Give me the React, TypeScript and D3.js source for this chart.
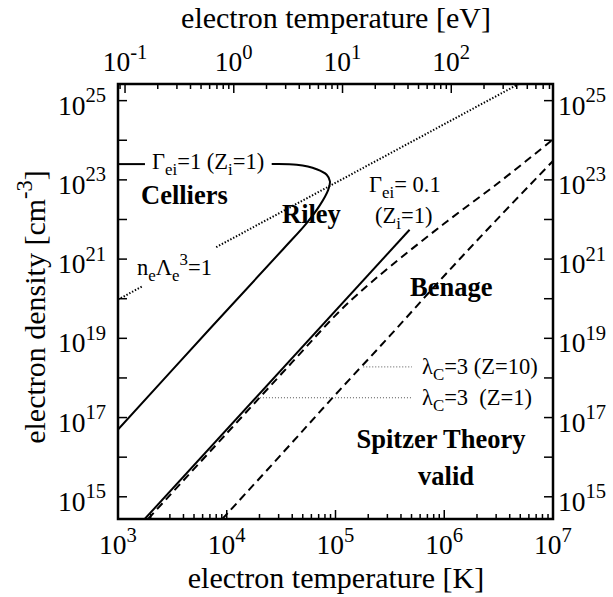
import React from 'react';
import * as d3 from 'd3';

const W = 613;
const H = 597;
const FRAME = { left: 118, right: 553, top: 84, bottom: 519 };
const K_PER_EV = 11604.5;
const FONT = "'Liberation Serif', 'Times New Roman', serif";

// axis domains / ticks
const tempDomainK = [1e3, 1e7];
const densityDomain = [2.75e14, 2.63e25];
const densityTickExps = [15, 16, 17, 18, 19, 20, 21, 22, 23, 24, 25];
const densityLabelExps = [15, 17, 19, 21, 23, 25];
const tempLabelExps = [3, 4, 5, 6, 7];
const evLabelExps = [-1, 0, 1, 2];

// curves: [T (K), n_e (cm^-3)]
const gamma1Left = [[1e3, 2.5e23], [1.77e3, 2.5e23]];
const gamma1Curve = [
  [2.59e4, 2.5e23], [4.4e4, 2.4e23], [6.71e4, 1.86e23], [8.3e4, 1.35e23],
  [8.89e4, 9.1e22], [8.57e4, 5.6e22], [7.19e4, 2.3e22], [5.43e4, 8.1e21],
  [3.31e4, 1.8e21], [7.0e3, 1.74e19], [1e3, 5.0e16],
];
const gamma01 = [[1.76e3, 2.75e14], [4.8e5, 5.5e21]];
const coulombZ1 = [
  [1.9e3, 2.8e14], [1e4, 4.0e16], [4e4, 2.5e18], [1e5, 3.8e19], [1.6e5, 1.3e20],
  [3.2e5, 6.6e20], [1e6, 7.9e21], [3.2e6, 8.7e22], [1e7, 1.05e24],
];
const coulombZ10 = [
  [9.1e3, 2.75e14], [3.2e4, 1.2e16], [1e5, 3.8e17], [3.2e5, 1.2e19],
  [1e6, 3.8e20], [3.2e6, 1.15e22], [1e7, 3.0e23],
];
const degenLeft = [[1e3, 9.5e19], [1.7e3, 2.1e20]];
const degenRight = [[8e3, 2.0e21], [4.8e6, 2.6e25]];
const leaderZ10 = [[1.8e5, 1.9e18], [5.05e5, 1.9e18]];
const leaderZ1 = [[2.02e4, 3.16e17], [5.05e5, 3.16e17]];

type Seg = { t: string; sub?: boolean; sup?: boolean };

function Rich({ x, y, segs, size, weight, anchor, supScale }: { x: number; y: number; segs: Seg[]; size: number; weight?: string; anchor?: string; supScale?: number }) {
  let shift = 0;
  const small = size * (supScale || 0.75);
  return (
    <text x={x} y={y} fontSize={size} fontFamily={FONT} fontWeight={weight || 'normal'} textAnchor={anchor || 'start'} fill="#000" style={{ whiteSpace: 'pre' }}>
      {segs.map((s, i) => {
        const target = s.sub ? size * 0.25 : s.sup ? -size * 0.45 : 0;
        const dy = target - shift;
        shift = target;
        return (
          <tspan key={i} dy={dy} fontSize={s.sub || s.sup ? small : size}>{s.t}</tspan>
        );
      })}
    </text>
  );
}

export default function App() {
  const x = d3.scaleLog().domain(tempDomainK).range([FRAME.left, FRAME.right]);
  const xEv = d3.scaleLog().domain([tempDomainK[0] / K_PER_EV, tempDomainK[1] / K_PER_EV]).range([FRAME.left, FRAME.right]);
  const y = d3.scaleLog().domain(densityDomain).range([FRAME.bottom, FRAME.top]);

  const line = d3.line<number[]>().x(d => x(d[0])).y(d => y(d[1]));
  const smooth = d3.line<number[]>().x(d => x(d[0])).y(d => y(d[1])).curve(d3.curveCatmullRom.alpha(0.5));

  const minorK: number[] = [];
  for (let e = 3; e < 7; e++) for (let k = 2; k <= 9; k++) minorK.push(k * 10 ** e);
  const minorEv: number[] = [];
  const [e0, e1] = xEv.domain();
  for (let e = -2; e <= 2; e++) for (let k = 2; k <= 9; k++) {
    const v = k * 10 ** e;
    if (v > e0 && v < e1) minorEv.push(v);
  }

  const MAJ = 9, MIN = 5;
  const lw = 2;
  const TICK = 27.5;
  const TITLE = 30;
  const ANN = 22.5;

  return (
    <svg width={W} height={H} style={{ display: 'block', position: 'absolute', left: 0, top: 0 }}>
      <rect width={W} height={H} fill="#fff" />
      <defs>
        <clipPath id="plot">
          <rect x={FRAME.left} y={FRAME.top} width={FRAME.right - FRAME.left} height={FRAME.bottom - FRAME.top} />
        </clipPath>
      </defs>

      {/* ticks */}
      <g stroke="#000" strokeWidth={1.5}>
        {tempLabelExps.map(e => (
          <line key={'bk' + e} x1={x(10 ** e)} x2={x(10 ** e)} y1={FRAME.bottom} y2={FRAME.bottom - MAJ} />
        ))}
        {minorK.map(v => (
          <line key={'bm' + v} x1={x(v)} x2={x(v)} y1={FRAME.bottom} y2={FRAME.bottom - MIN} />
        ))}
        {evLabelExps.map(e => (
          <line key={'tk' + e} x1={xEv(10 ** e)} x2={xEv(10 ** e)} y1={FRAME.top} y2={FRAME.top + MAJ} />
        ))}
        {minorEv.map(v => (
          <line key={'tm' + v} x1={xEv(v)} x2={xEv(v)} y1={FRAME.top} y2={FRAME.top + MIN} />
        ))}
        {densityTickExps.map(e => (
          <g key={'yk' + e}>
            <line x1={FRAME.left} x2={FRAME.left + MAJ} y1={y(10 ** e)} y2={y(10 ** e)} />
            <line x1={FRAME.right} x2={FRAME.right - MAJ} y1={y(10 ** e)} y2={y(10 ** e)} />
          </g>
        ))}
      </g>

      {/* curves */}
      <g clipPath="url(#plot)" fill="none" stroke="#000">
        <path d={line(gamma1Left) || ''} strokeWidth={lw} />
        <path d={smooth(gamma1Curve) || ''} strokeWidth={lw} />
        <path d={line(gamma01) || ''} strokeWidth={lw} />
        <path d={smooth(coulombZ1) || ''} strokeWidth={lw} strokeDasharray="8,5" />
        <path d={smooth(coulombZ10) || ''} strokeWidth={lw} strokeDasharray="8,5" />
        <path d={line(degenLeft) || ''} strokeWidth={2} strokeDasharray="1.4,1.8" />
        <path d={line(degenRight) || ''} strokeWidth={2} strokeDasharray="1.4,1.8" />
        <path d={line(leaderZ10) || ''} strokeWidth={1} stroke="#555" strokeDasharray="1,2" />
        <path d={line(leaderZ1) || ''} strokeWidth={1} stroke="#555" strokeDasharray="1,2" />
      </g>

      {/* frame */}
      <rect x={FRAME.left} y={FRAME.top} width={FRAME.right - FRAME.left} height={FRAME.bottom - FRAME.top} fill="none" stroke="#000" strokeWidth={2.5} />

      {/* tick labels */}
      {tempLabelExps.map(e => (
        <Rich key={'bl' + e} x={x(10 ** e)} y={554} size={TICK} anchor="middle" segs={[{ t: '10' }, { t: String(e), sup: true }]} />
      ))}
      {evLabelExps.map(e => (
        <Rich key={'tl' + e} x={xEv(10 ** e)} y={71} size={TICK} anchor="middle" segs={[{ t: '10' }, { t: String(e), sup: true }]} />
      ))}
      {densityLabelExps.map(e => (
        <g key={'yl' + e}>
          <Rich x={106} y={y(10 ** e) + 14} size={TICK} anchor="end" segs={[{ t: '10' }, { t: String(e), sup: true }]} />
          <Rich x={558} y={y(10 ** e) + 14} size={TICK} anchor="start" segs={[{ t: '10' }, { t: String(e), sup: true }]} />
        </g>
      ))}

      {/* axis titles */}
      <text x={336} y={588} fontSize={TITLE} fontFamily={FONT} textAnchor="middle">electron temperature [K]</text>
      <text x={336} y={28} fontSize={TITLE} fontFamily={FONT} textAnchor="middle">electron temperature [eV]</text>
      <g transform="translate(45, 307) rotate(-90)">
        <Rich x={0} y={0} size={TITLE} anchor="middle" segs={[{ t: 'electron density [cm' }, { t: '-3', sup: true }, { t: ']' }]} />
      </g>

      {/* annotations */}
      <Rich x={152} y={169} size={ANN} segs={[{ t: 'Γ' }, { t: 'ei', sub: true }, { t: '=1 (Z' }, { t: 'i', sub: true }, { t: '=1)' }]} />
      <Rich x={137} y={275} size={ANN} segs={[{ t: 'n' }, { t: 'e', sub: true }, { t: 'Λ' }, { t: 'e', sub: true }, { t: '3', sup: true }, { t: '=1' }]} />
      <Rich x={369} y={192} size={ANN} segs={[{ t: 'Γ' }, { t: 'ei', sub: true }, { t: '= 0.1' }]} />
      <Rich x={375} y={223} size={ANN} segs={[{ t: '(Z' }, { t: 'i', sub: true }, { t: '=1)' }]} />
      <Rich x={422} y={374} size={ANN} segs={[{ t: 'λ' }, { t: 'C', sub: true }, { t: '=3 (Z=10)' }]} />
      <Rich x={422} y={405} size={ANN} segs={[{ t: 'λ' }, { t: 'C', sub: true }, { t: '=3\u00A0\u00A0(Z=1)' }]} />

      <text x={141} y={204} fontSize={26.5} fontWeight="bold" fontFamily={FONT}>Celliers</text>
      <text x={282} y={223} fontSize={26.5} fontWeight="bold" fontFamily={FONT}>Riley</text>
      <text x={410} y={296} fontSize={26.5} fontWeight="bold" fontFamily={FONT}>Benage</text>
      <text x={441} y={448} fontSize={26.5} fontWeight="bold" fontFamily={FONT} textAnchor="middle">Spitzer Theory</text>
      <text x={446} y={485} fontSize={26.5} fontWeight="bold" fontFamily={FONT} textAnchor="middle">valid</text>
    </svg>
  );
}
